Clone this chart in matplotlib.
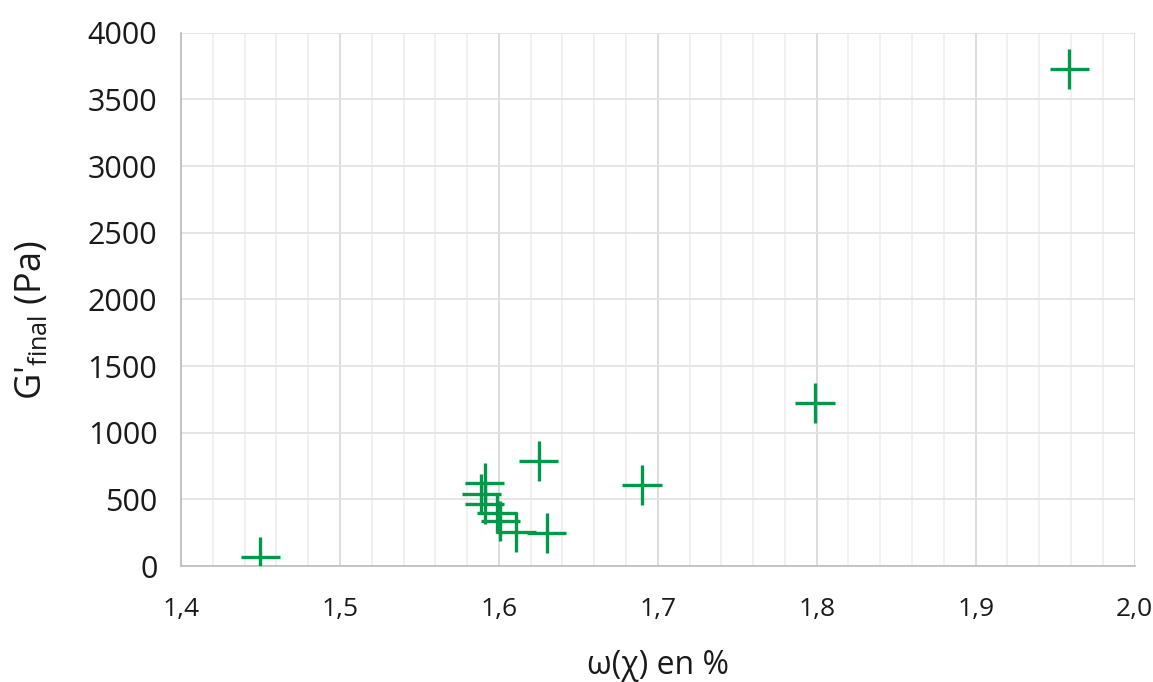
import matplotlib
matplotlib.use("Agg")
import matplotlib.pyplot as plt
from matplotlib.ticker import MultipleLocator, FuncFormatter

# data
omega = [1.450, 1.591, 1.589, 1.591, 1.599, 1.601, 1.611, 1.625, 1.630, 1.690, 1.799, 1.959]
g_final = [68, 623, 538, 463, 395, 338, 258, 790, 245, 608, 1223, 3727]
x_err = [0.0125] * len(omega)
y_err = [150] * len(omega)

x_ticks = [1.4, 1.5, 1.6, 1.7, 1.8, 1.9, 2.0]
y_ticks = [0, 500, 1000, 1500, 2000, 2500, 3000, 3500, 4000]

plt.rcParams['font.family'] = ['Open Sans', 'DejaVu Sans']
plt.rcParams['mathtext.fontset'] = 'custom'
plt.rcParams['mathtext.rm'] = 'Open Sans'

fig = plt.figure(figsize=(11.53, 6.82), dpi=100)
ax = fig.add_axes([0.157, 0.170, 0.827, 0.782])

ax.errorbar(omega, g_final, xerr=x_err, yerr=y_err, fmt='none',
            ecolor='#00994a', elinewidth=2.4, capsize=0, zorder=3)

ax.set_xlim(1.4, 2.0)
ax.set_ylim(0, 4000)
ax.set_xticks(x_ticks)
ax.set_yticks(y_ticks)
ax.xaxis.set_minor_locator(MultipleLocator(0.02))
ax.xaxis.set_major_formatter(FuncFormatter(lambda v, p: f"{v:.1f}".replace('.', ',')))

ax.grid(which='major', axis='x', color='#d9d9d9', linewidth=1.3, zorder=0)
ax.grid(which='minor', axis='x', color='#efefef', linewidth=1.3, zorder=0)
ax.grid(which='major', axis='y', color='#e3e3e3', linewidth=1.3, zorder=0)
ax.set_axisbelow(True)

for s in ['top', 'right']:
    ax.spines[s].set_visible(False)
for s in ['left', 'bottom']:
    ax.spines[s].set_color('#bfbfbf')
    ax.spines[s].set_linewidth(1.3)

ax.tick_params(axis='both', which='both', length=0)
ax.tick_params(axis='y', labelsize=22, colors='#1a1a1a', pad=17)
ax.tick_params(axis='x', labelsize=19, colors='#1a1a1a', pad=22)

ax.set_xlabel('ω(χ) en %', fontsize=23, color='#1a1a1a', labelpad=20)
ax.set_ylabel(r"G'$_{\mathrm{final}}$ (Pa)", fontsize=26, color='#1a1a1a')
ax.yaxis.set_label_coords(-0.137, 0.46)

fig.savefig('out.png', dpi=100)
